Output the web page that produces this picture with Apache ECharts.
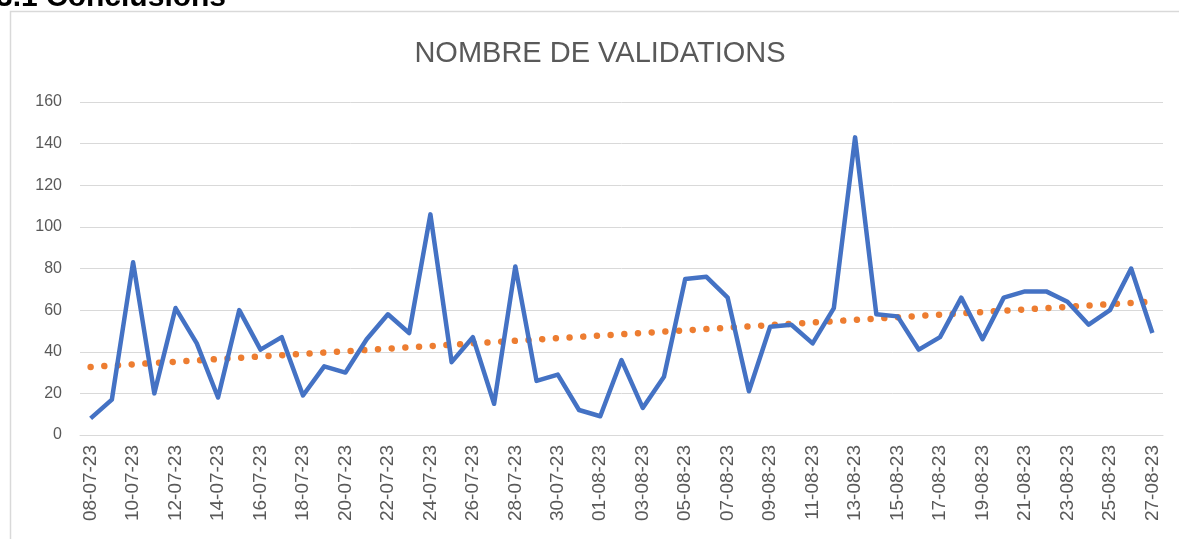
<!DOCTYPE html>
<html>
<head>
<meta charset="utf-8">
<script src="https://cdn.jsdelivr.net/npm/echarts@6/dist/echarts.min.js"></script>
<style>
	html, body {margin: 0; padding: 0; background: #fff;}
	#chart {width: 1179px; height: 539px;}
</style>
</head>
<body>
<div id="chart"></div>
<script>
//	raw data: one value per day, 08-07-23 .. 27-08-23
var dates = [
	'08-07-23','09-07-23','10-07-23','11-07-23','12-07-23','13-07-23','14-07-23','15-07-23',
	'16-07-23','17-07-23','18-07-23','19-07-23','20-07-23','21-07-23','22-07-23','23-07-23',
	'24-07-23','25-07-23','26-07-23','27-07-23','28-07-23','29-07-23','30-07-23','31-07-23',
	'01-08-23','02-08-23','03-08-23','04-08-23','05-08-23','06-08-23','07-08-23','08-08-23',
	'09-08-23','10-08-23','11-08-23','12-08-23','13-08-23','14-08-23','15-08-23','16-08-23',
	'17-08-23','18-08-23','19-08-23','20-08-23','21-08-23','22-08-23','23-08-23','24-08-23',
	'25-08-23','26-08-23','27-08-23'
];
var validations = [
	8, 17, 83, 20, 61, 44, 18, 60,
	41, 47, 19, 33, 30, 46, 58, 49,
	106, 35, 47, 15, 81, 26, 29, 12,
	9, 36, 13, 28, 75, 76, 66, 21,
	52, 53, 44, 61, 143, 58, 57, 41,
	47, 66, 46, 66, 69, 69, 64, 53,
	60, 80, 49
];
//	trend line end points
var trend = [[0, 32.7], [50, 64.1]];
var yTicks = {min: 0, max: 160, interval: 20};

var myChart = echarts.init(document.getElementById('chart'));

var option = {
	animation: false,
	title: {
		text: 'NOMBRE DE VALIDATIONS',
		left: 595,
		top: 34,
		textAlign: 'center',
		textStyle: {
			fontFamily: 'Liberation Sans',
			fontSize: 29,
			fontWeight: 'normal',
			color: '#595959'
		}
	},
	graphic: [
		{
			type: 'rect',
			shape: {x: 10.5, y: 11.5, width: 1300, height: 700},
			style: {fill: 'none', stroke: '#d9d9d9', lineWidth: 1.5},
			silent: true
		},
		{
			//	section heading above the chart, cut by the top edge
			type: 'text',
			x: -4,
			y: 13,
			style: {
				text: '3.1 Conclusions',
				fontFamily: 'Liberation Sans',
				fontSize: 30,
				fontWeight: 'bold',
				fill: '#000',
				verticalAlign: 'bottom'
			}
		}
	],
	grid: {
		left: 80,
		right: 16,
		top: 102,
		bottom: 104
	},
	xAxis: {
		type: 'category',
		boundaryGap: true,
		data: dates,
		axisLine: {lineStyle: {color: '#d9d9d9', width: 1}},
		axisTick: {show: false},
		axisLabel: {
			interval: 1,
			rotate: 90,
			margin: 10,
			color: '#595959',
			fontFamily: 'Liberation Sans',
			fontSize: 19
		}
	},
	yAxis: {
		type: 'value',
		min: yTicks.min,
		max: yTicks.max,
		interval: yTicks.interval,
		axisLine: {show: false},
		axisTick: {show: false},
		splitLine: {lineStyle: {color: '#d9d9d9', width: 1}},
		axisLabel: {
			margin: 18,
			color: '#595959',
			fontFamily: 'Liberation Sans',
			fontSize: 16
		}
	},
	series: [
		{
			name: 'Validations',
			type: 'line',
			data: validations,
			symbol: 'none',
			lineStyle: {color: '#4472C4', width: 4.5, join: 'round'},
			z: 3
		},
		{
			name: 'Tendance',
			type: 'line',
			data: trend,
			symbol: 'none',
			lineStyle: {
				color: '#ED7D31',
				width: 6.5,
				type: [0.01, 13.7],
				cap: 'round'
			},
			z: 2
		}
	]
};

myChart.setOption(option);
</script>
</body>
</html>
